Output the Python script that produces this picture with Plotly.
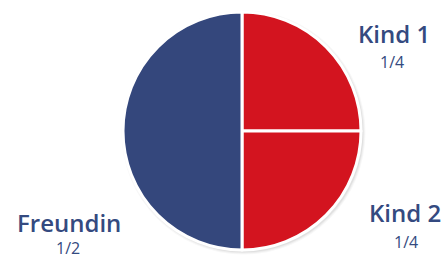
import plotly.graph_objects as go

labels = ["Kind 1", "Kind 2", "Freundin"]
values = [1, 1, 2]
fractions = ["1/4", "1/4", "1/2"]
colors = ["#d3141f", "#d3141f", "#34477c"]

W, H = 447, 259
cx, cy, r = 242, 131, 119

fig = go.Figure(go.Pie(
    labels=labels, values=values, sort=False, direction="clockwise", rotation=0,
    marker=dict(colors=colors, line=dict(color="white", width=3)),
    textinfo="none", hoverinfo="label+value", showlegend=False,
    domain=dict(x=[(cx - r) / W, (cx + r) / W], y=[1 - (cy + r) / H, 1 - (cy - r) / H]),
))

# soft shadow behind pie
for i, op in enumerate([0.03, 0.04, 0.05]):
    rr = r + 3 - i
    fig.add_shape(type="circle", xref="paper", yref="paper", layer="below",
                  x0=(cx - rr + 1.5) / W, x1=(cx + rr + 1.5) / W,
                  y0=1 - (cy + rr + 1.5) / H, y1=1 - (cy - rr + 1.5) / H,
                  fillcolor=f"rgba(0,0,0,{op})", line=dict(width=0))

pos = {"Kind 1": (394, 34, 392, 62), "Kind 2": (405, 212, 406, 242), "Freundin": (69, 223, 68, 248)}
navy = "#344a80"
for lab, frac in zip(labels, fractions):
    x1, y1, x2, y2 = pos[lab]
    fig.add_annotation(x=x1 / W, y=1 - y1 / H, xref="paper", yref="paper", text=lab,
                       showarrow=False, xanchor="center", yanchor="middle",
                       font=dict(family="Open Sans", size=24, color=navy, weight=600))
    fig.add_annotation(x=x2 / W, y=1 - y2 / H, xref="paper", yref="paper", text=frac,
                       showarrow=False, xanchor="center", yanchor="middle",
                       font=dict(family="Open Sans", size=16, color=navy))

fig.update_layout(width=W, height=H, margin=dict(l=0, r=0, t=0, b=0),
                  paper_bgcolor="white", plot_bgcolor="white")
fig.write_html("out.html", config={"displayModeBar": False},
               post_script="document.body.style.margin='0';")
